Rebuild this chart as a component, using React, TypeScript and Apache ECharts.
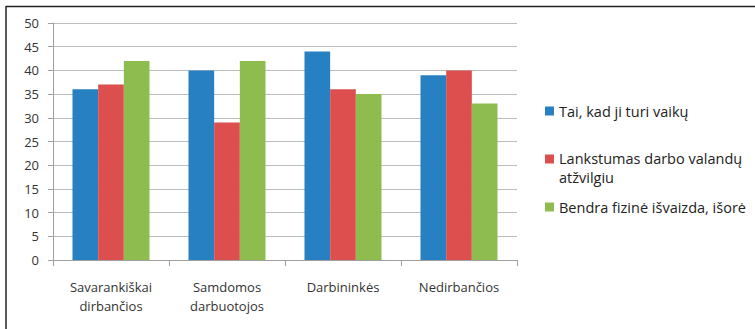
import React, { useEffect, useRef } from "react";
import * as echarts from "echarts";

const categories = ["Savarankiškai\ndirbančios", "Samdomos\ndarbuotojos", "Darbininkės", "Nedirbančios"];
const seriesNames = ["Tai, kad ji turi vaikų", "Lankstumas darbo valandų atžvilgiu", "Bendra fizinė išvaizda, išorė"];
const seriesA = [36, 40, 44, 39];
const seriesB = [37, 29, 36, 40];
const seriesC = [42, 42, 35, 33];
const colors = ["#2680c1", "#dc4f4e", "#8fbc4f"];
const yTicks = { min: 0, max: 50, interval: 5 };

const FONT = "'Open Sans', 'Noto Sans', sans-serif";
const LEG_SIZE = 14.5;

export default function App() {
  const ref = useRef<HTMLDivElement>(null);
  useEffect(() => {
    document.body.style.margin = "0";
    const chart = echarts.init(ref.current!, null, { renderer: "svg" });
    const legendBase = {
      orient: "vertical" as const,
      left: 545,
      padding: 0,
      itemWidth: 9,
      itemHeight: 9,
      itemGap: 4,
      icon: "rect",
      textStyle: { fontFamily: FONT, fontSize: LEG_SIZE, color: "#222", lineHeight: 18 },
    };
    chart.setOption({
      animation: false,
      backgroundColor: "#fff",
      textStyle: { fontFamily: FONT },
      grid: { left: 53, top: 23, right: 238, bottom: 69 },
      legend: [
        { ...legendBase, top: 102, data: [seriesNames[0]] },
        {
          ...legendBase,
          top: 131,
          data: [seriesNames[1]],
          formatter: () => "{e| }\n{a|Lankstumas darbo valandų}\n{a|atžvilgiu}",
          textStyle: {
            ...legendBase.textStyle,
            rich: {
              e: { fontSize: 1, lineHeight: 18 },
              a: { fontFamily: FONT, fontSize: LEG_SIZE, color: "#222", lineHeight: 19 },
            },
          },
        },
        { ...legendBase, top: 198, data: [seriesNames[2]] },
      ],
      xAxis: {
        type: "category",
        data: categories,
        axisLine: { lineStyle: { color: "#a0a0a0", width: 1 } },
        axisTick: { show: true, length: 6, lineStyle: { color: "#a0a0a0" } },
        axisLabel: { fontFamily: FONT, fontSize: 13, color: "#333", lineHeight: 19, margin: 17 },
      },
      yAxis: {
        type: "value",
        min: yTicks.min,
        max: yTicks.max,
        interval: yTicks.interval,
        axisLine: { show: true, lineStyle: { color: "#a0a0a0", width: 1 } },
        axisTick: { show: true, length: 5, lineStyle: { color: "#a0a0a0" } },
        axisLabel: { fontFamily: FONT, fontSize: 13, color: "#333", margin: 14 },
        splitLine: { show: true, lineStyle: { color: "#bcbcbc", width: 1 } },
      },
      series: [seriesA, seriesB, seriesC].map((d, i) => ({
        type: "bar",
        name: seriesNames[i],
        data: d,
        barGap: "0%",
        barCategoryGap: "33.6%",
        itemStyle: { color: colors[i] },
      })),
      graphic: [
        { type: "line", shape: { x1: 6, y1: 6.5, x2: 755, y2: 6.5 }, style: { stroke: "#222", lineWidth: 1.5 } },
        { type: "line", shape: { x1: 6, y1: 6, x2: 6, y2: 329 }, style: { stroke: "#222", lineWidth: 1.5 } },
      ],
    });
    return () => chart.dispose();
  }, []);
  return <div ref={ref} style={{ width: 755, height: 329 }} />;
}
